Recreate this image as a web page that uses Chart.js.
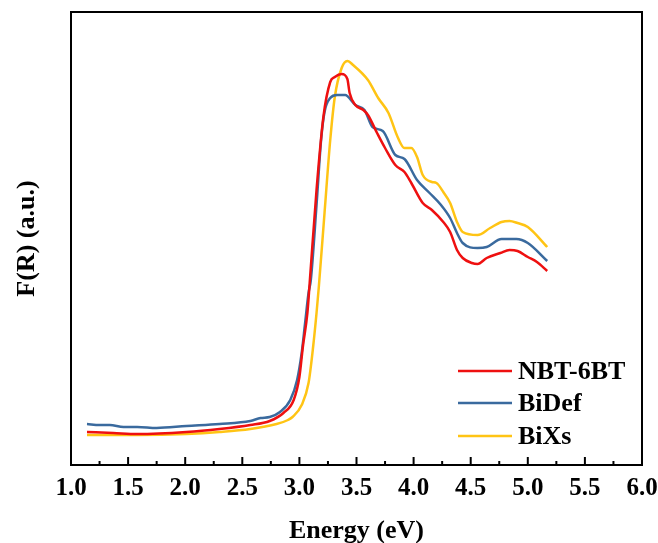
<!DOCTYPE html>
<html>
<head>
<meta charset="utf-8">
<script src="https://cdn.jsdelivr.net/npm/chart.js@4/dist/chart.umd.min.js"></script>
<style>
  html, body { margin: 0; padding: 0; background: #fff; }
  canvas { display: block; }
</style>
</head>
<body>
<canvas id="chart" width="658" height="543"></canvas>
<script>
// Energy (eV) / F(R) (a.u.)
const energyNbt = [1.14, 1.37, 1.58, 2.01, 2.30, 2.57, 2.74, 2.86, 2.95, 3.00, 3.03, 3.07, 3.09, 3.15, 3.21, 3.27, 3.31, 3.37, 3.42, 3.44, 3.49, 3.56, 3.60, 3.68, 3.75, 3.84, 3.92, 3.98, 4.08, 4.16, 4.26, 4.32, 4.38, 4.43, 4.51, 4.56, 4.64, 4.76, 4.84, 4.91, 5.00, 5.08, 5.17];
const fNbt = [33, 32, 31, 33, 36, 40, 44, 52, 65, 88, 118, 152, 182, 275, 348, 383, 388, 391, 386, 372, 360, 355, 350, 332, 317, 300, 293, 282, 262, 255, 243, 233, 215, 207, 202, 201, 207, 212, 215, 214, 208, 203, 194];

const energyBiDef = [1.14, 1.25, 1.34, 1.46, 1.58, 1.75, 2.01, 2.30, 2.57, 2.66, 2.74, 2.83, 2.92, 2.98, 3.02, 3.05, 3.08, 3.10, 3.15, 3.19, 3.22, 3.27, 3.33, 3.40, 3.49, 3.57, 3.64, 3.73, 3.84, 3.92, 4.03, 4.14, 4.24, 4.32, 4.38, 4.43, 4.56, 4.64, 4.77, 4.90, 5.00, 5.17];
const fBiDef = [41, 40, 40, 38, 38, 37, 39, 41, 44, 47, 48, 53, 65, 85, 112, 142, 172, 185, 260, 325, 353, 367, 370, 370, 360, 355, 338, 334, 310, 306, 285, 272, 260, 247, 232, 222, 217, 218, 226, 226, 222, 204];

const energyBiXs = [1.14, 1.58, 2.01, 2.30, 2.57, 2.80, 2.90, 2.94, 3.02, 3.08, 3.12, 3.15, 3.17, 3.22, 3.27, 3.31, 3.37, 3.42, 3.47, 3.60, 3.69, 3.78, 3.86, 3.92, 3.98, 4.03, 4.08, 4.16, 4.20, 4.26, 4.32, 4.38, 4.43, 4.56, 4.67, 4.77, 4.84, 4.91, 5.00, 5.17];
const fBiXs = [30, 30, 31, 33, 36, 41, 45, 48, 60, 82, 118, 152, 178, 252, 325, 368, 397, 404, 400, 385, 367, 352, 328, 317, 317, 308, 290, 283, 282, 273, 262, 243, 233, 230, 237, 243, 244, 242, 238, 218];

const seriesNames = ['NBT-6BT', 'BiDef', 'BiXs'];
const seriesColors = ['#EE1010', '#3A6A9E', '#FFC414'];

const FONT = '"Liberation Serif", "Times New Roman", serif';

const toPoints = (xs, ys) => xs.map((x, i) => ({ x: x, y: ys[i] }));

// Marco completo del área de trazado y ticks hacia dentro
const framePlugin = {
  id: 'frame',
  afterDraw(chart) {
    const { ctx, chartArea: a, scales } = chart;
    ctx.save();
    ctx.strokeStyle = '#000';
    ctx.lineWidth = 2;
    ctx.strokeRect(a.left, a.top, a.right - a.left, a.bottom - a.top);
    const xs = scales.x;
    xs.ticks.forEach((t) => {
      const px = xs.getPixelForValue(t.value);
      const major = Math.abs(t.value * 2 - Math.round(t.value * 2)) < 1e-6;
      const len = major ? 8 : 4;
      ctx.beginPath();
      ctx.moveTo(px, a.bottom);
      ctx.lineTo(px, a.bottom - len);
      ctx.stroke();
    });
    ctx.restore();
  },
};

// Leyenda dentro del área de trazado, abajo a la derecha
const legendPlugin = {
  id: 'insideLegend',
  afterDraw(chart) {
    const { ctx } = chart;
    const x0 = 458, x1 = 512, tx = 518;
    const rows = [371, 403, 436];
    ctx.save();
    ctx.font = 'bold 26px ' + FONT;
    ctx.textBaseline = 'middle';
    chart.data.datasets.forEach((ds, i) => {
      ctx.strokeStyle = ds.borderColor;
      ctx.lineWidth = 2.5;
      ctx.beginPath();
      ctx.moveTo(x0, rows[i]);
      ctx.lineTo(x1, rows[i]);
      ctx.stroke();
      ctx.fillStyle = '#000';
      ctx.fillText(ds.label, tx, rows[i] + 1);
    });
    ctx.restore();
  },
};

const ctx = document.getElementById('chart').getContext('2d');
new Chart(ctx, {
  type: 'line',
  data: {
    datasets: [
      { label: seriesNames[0], data: toPoints(energyNbt, fNbt), borderColor: seriesColors[0] },
      { label: seriesNames[1], data: toPoints(energyBiDef, fBiDef), borderColor: seriesColors[1] },
      { label: seriesNames[2], data: toPoints(energyBiXs, fBiXs), borderColor: seriesColors[2] },
    ].map((d) => ({ ...d, borderWidth: 2.5, pointRadius: 0, fill: false, tension: 0.3, cubicInterpolationMode: 'monotone' })),
  },
  options: {
    responsive: false,
    animation: false,
    layout: { padding: { top: 12, right: 0, left: 0, bottom: 0 } },
    plugins: { legend: { display: false }, tooltip: { enabled: false } },
    scales: {
      x: {
        type: 'linear',
        min: 1,
        max: 6,
        afterFit: (s) => {
          s.height = 78;
          s.paddingLeft = 0;
          s.paddingRight = 16;
        },
        grid: { display: false, drawTicks: false },
        border: { display: false },
        ticks: {
          stepSize: 0.25,
          autoSkip: false,
          maxRotation: 0,
          padding: 9,
          color: '#000',
          font: { family: FONT, size: 25, weight: 'bold' },
          callback: (v) => (Math.abs(v * 2 - Math.round(v * 2)) < 1e-6 ? v.toFixed(1) : ''),
        },
        title: {
          display: true,
          text: 'Energy (eV)',
          color: '#000',
          font: { family: FONT, size: 26, weight: 'bold' },
          padding: { top: 0, bottom: -4 },
        },
      },
      y: {
        min: 0,
        max: 453,
        afterFit: (s) => { s.width = 71; },
        grid: { display: false, drawTicks: false },
        border: { display: false },
        ticks: { display: false },
        title: {
          display: true,
          text: 'F(R) (a.u.)',
          color: '#000',
          font: { family: FONT, size: 26, weight: 'bold' },
          padding: { top: 12, bottom: 0 },
        },
      },
    },
  },
  plugins: [framePlugin, legendPlugin],
});
</script>
</body>
</html>
